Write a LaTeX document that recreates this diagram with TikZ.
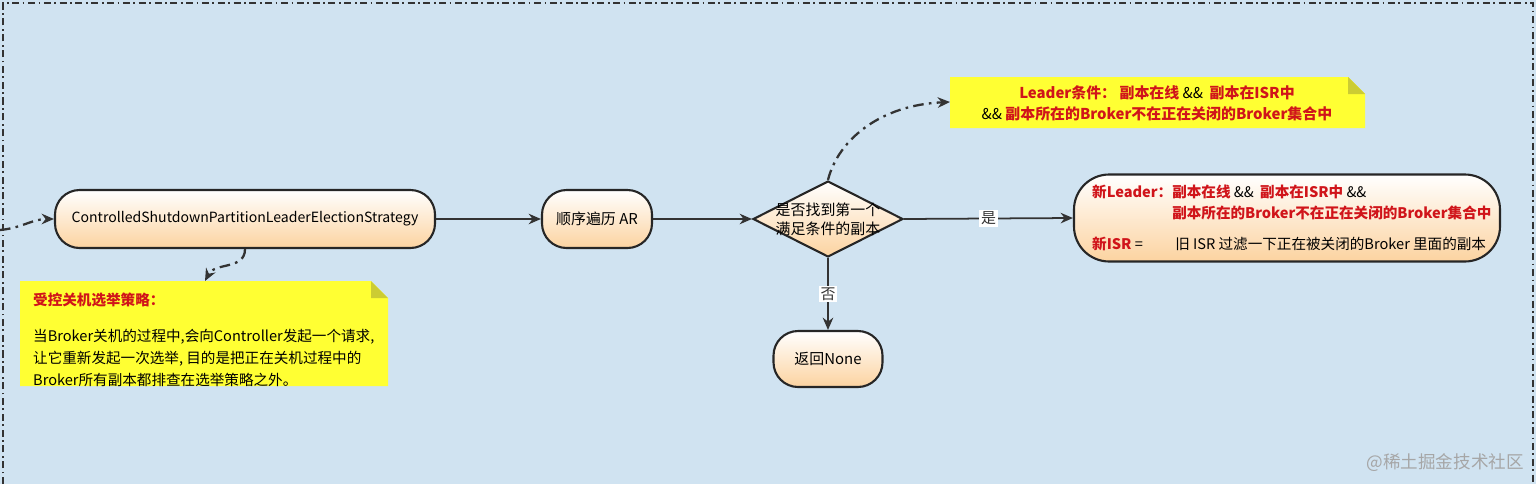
\documentclass[tikz,border=0pt]{standalone}
\usepackage{fontspec}
\setmainfont{Noto Sans CJK SC}
\usetikzlibrary{shapes.geometric,arrows.meta}
\definecolor{bg}{HTML}{D0E3F1}
\definecolor{nred}{HTML}{D0141A}
\definecolor{ny}{HTML}{FFFF33}
\definecolor{fold}{HTML}{CCCC33}
\definecolor{peach}{HTML}{FCD3A0}
\newcommand{\rd}[1]{\textcolor{nred}{\bfseries #1}}
\tikzset{
 x=0.02cm,y=-0.02cm,
 proc/.style={draw=black!85,line width=1.2pt,rounded corners=14pt,top color=white,bottom color=peach,align=center,font=\fontsize{8.5}{11}\selectfont},
 arr/.style={-{Stealth[length=7pt,width=6pt]},line width=1pt,black!80},
 dda/.style={arr,line width=1.3pt,dash pattern=on 6pt off 3pt on 1.5pt off 3pt},
 lab/.style={fill=white,inner sep=1pt,font=\fontsize{8.5}{11}\selectfont},
}
\begin{document}
\begin{tikzpicture}
\useasboundingbox (0,0) rectangle (1536,484);
\fill[bg] (0,0) rectangle (1536,484);
\draw[black!80,line width=1.5pt,dash pattern=on 4pt off 2pt on 1pt off 2pt] (3,484) -- (3,3) -- (1533,3) -- (1533,484);
% notes
\fill[ny] (950,77) -- (1348,77) -- (1365,94) -- (1365,128) -- (950,128) -- cycle;
\fill[fold] (1348,77) -- (1365,94) -- (1348,94) -- cycle;
\node[align=center,font=\fontsize{8.5}{12}\selectfont] (n1) at (1157,103) {\rd{Leader条件：\ 副本在线} \&\& \ \rd{副本在ISR中}\\ \&\& \rd{副本所在的Broker不在正在关闭的Broker集合中}};
\coordinate (n1w) at (950,102);
\fill[ny] (20,281) -- (371,281) -- (388,298) -- (388,386) -- (20,386) -- cycle;
\fill[fold] (371,281) -- (388,298) -- (371,298) -- cycle;
\node[anchor=north west,align=left,font=\fontsize{8.3}{12.5}\selectfont] (n2) at (27,287) {\rd{受控关机选举策略：}\\[8pt]当Broker关机的过程中,会向Controller发起一个请求,\\让它重新发起一次选举, 目的是把正在关机过程中的\\Broker所有副本都排查在选举策略之外。};
\coordinate (n2t) at (205,281);
% nodes
\node[proc,minimum width=380*0.02cm,minimum height=58*0.02cm,font=\fontsize{8}{10}\selectfont] (main) at (245,219) {ControlledShutdownPartitionLeaderElectionStrategy};
\node[proc,minimum width=110*0.02cm,minimum height=58*0.02cm] (ar) at (597,219) {顺序遍历 AR};
\node[diamond,aspect=2,draw=black!85,line width=1.2pt,top color=white,bottom color=peach,inner sep=0pt,minimum width=150*0.02cm,minimum height=76*0.02cm] (d) at (828,219) {};
\node[font=\fontsize{8.5}{11}\selectfont,align=center] (dt) at (828,219) {是否找到第一个\\满足条件的副本};
\node[proc,minimum width=109*0.02cm,minimum height=56*0.02cm] (none) at (828,359) {返回None};
\node[proc,rounded corners=20pt,minimum width=426*0.02cm,minimum height=87*0.02cm] (res) at (1287,218) {};
\node[anchor=west,font=\fontsize{8.3}{12}\selectfont,align=left] (rt) at (1086,218) {%
\rd{新Leader：副本在线} \&\& \ \rd{副本在ISR中} \&\&\\
\hphantom{\bfseries 新Leader：}\rd{副本所在的Broker不在正在关闭的Broker集合中}\\[6pt]
\rd{新ISR} = \qquad 旧 ISR 过滤一下正在被关闭的Broker 里面的副本};
\coordinate (in) at (0,230);
% connectors
\draw[dda] (in) to[out=5,in=180] (main.west);
\draw[dda] (main.south) .. controls (245,270) and (215,262) .. (n2t);
\draw[arr] (main.east) -- (ar.west);
\draw[arr] (ar.east) -- (d.west);
\draw[arr] (d.east) -- node[lab] {是} (res.west);
\draw[arr] (d.south) -- node[lab,pos=0.5] {否} (none.north);
\draw[dda] (d.north) .. controls (838,140) and (880,105) .. (n1w);
\node[text=black!35,font=\fontsize{10}{12}\selectfont,anchor=south east] (wm) at (1530,478) {@稀土掘金技术社区};
\end{tikzpicture}
\end{document}
